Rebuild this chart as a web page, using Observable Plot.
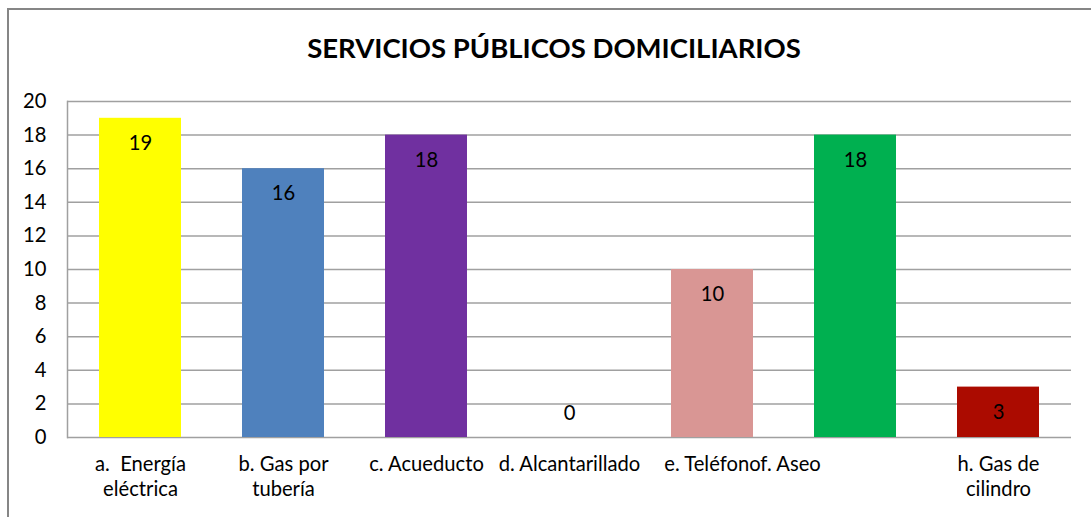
<!DOCTYPE html>
<html>
<head>
<meta charset="utf-8">
<script src="https://cdn.jsdelivr.net/npm/d3@7"></script>
<script src="https://cdn.jsdelivr.net/npm/@observablehq/plot@0.6"></script>
<style>
  html, body { margin: 0; padding: 0; background: #fff; }
  body { width: 1091px; height: 517px; position: relative; overflow: hidden; font-family: Lato, "Open Sans", sans-serif; }
  #frame { position: absolute; left: 7px; top: 8px; width: 1200px; height: 600px; border-left: 2px solid #868686; border-top: 2px solid #868686; }
  #title { position: absolute; left: 0; width: 1108px; top: 30px; text-align: center; font-weight: bold; font-size: 27.5px; color: #000; line-height: 36px; }
  #chart { position: absolute; left: 0; top: 80px; }
</style>
</head>
<body>
<div id="frame"></div>
<div id="title">SERVICIOS PÚBLICOS DOMICILIARIOS</div>
<div id="chart"></div>
<script>
const categories = ["a. Energía eléctrica", "b. Gas por tubería", "c. Acueducto", "d. Alcantarillado", "e. Teléfono", "f. Aseo", "h. Gas de cilindro"];
const values = [19, 16, 18, 0, 10, 18, 3];
const barColors = ["#FFFF00", "#4F81BD", "#7030A0", "#A0A0A0", "#D99694", "#00B050", "#AB0B00"];
const tickLabels = ["a.  Energía\neléctrica", "b. Gas por\ntubería", "c. Acueducto", "d. Alcantarillado", "e. Teléfonof. Aseo", "", "h. Gas de\ncilindro"];
const yTicks = [0, 2, 4, 6, 8, 10, 12, 14, 16, 18, 20];

const data = categories.map((c, i) => ({cat: c, value: values[i], color: barColors[i], tick: tickLabels[i]}));

const gray = "#A0A0A0";
const fs = 20.2;

const plot = Plot.plot({
  width: 1091,
  height: 437,
  marginTop: 21,
  marginBottom: 80,
  marginLeft: 67,
  marginRight: 20,
  style: {fontFamily: "Lato, 'Open Sans', sans-serif", fontSize: fs + "px", color: "#000", background: "transparent"},
  x: {domain: categories, paddingInner: 0.428, paddingOuter: 0.215, axis: null},
  y: {domain: [0, 20], ticks: yTicks, label: null},
  color: {type: "identity"},
  marks: [
    Plot.gridY(yTicks, {stroke: gray, strokeOpacity: 1, strokeWidth: 1.5}),
    Plot.frame({anchor: "left", stroke: gray, strokeWidth: 1.5}),
    Plot.axisY(yTicks, {tickSize: 0, tickPadding: 21, fontSize: fs, label: null, tickFormat: d => String(d)}),
    Plot.barY(data.filter(d => d.value > 0), {x: "cat", y: "value", fill: "color"}),
    Plot.text(data.filter(d => d.value > 0), {x: "cat", y: "value", text: d => String(d.value), dy: 25, fontSize: fs, fill: "#000"}),
    Plot.text(data.filter(d => d.value === 0), {x: "cat", y: "value", text: d => String(d.value), dy: -24, fontSize: fs, fill: "#000"}),
    Plot.text(data.filter(d => d.cat !== "e. Teléfono"), {x: "cat", text: "tick", frameAnchor: "bottom", lineAnchor: "top", dy: 15, fontSize: fs, lineHeight: 1.27, fill: "#000"}),
    Plot.text(data.filter(d => d.cat === "e. Teléfono"), {x: "cat", text: "tick", frameAnchor: "bottom", lineAnchor: "top", dy: 15, dx: 30, fontSize: fs, lineHeight: 1.27, fill: "#000"})
  ]
});
document.getElementById("chart").appendChild(plot);
</script>
</body>
</html>
